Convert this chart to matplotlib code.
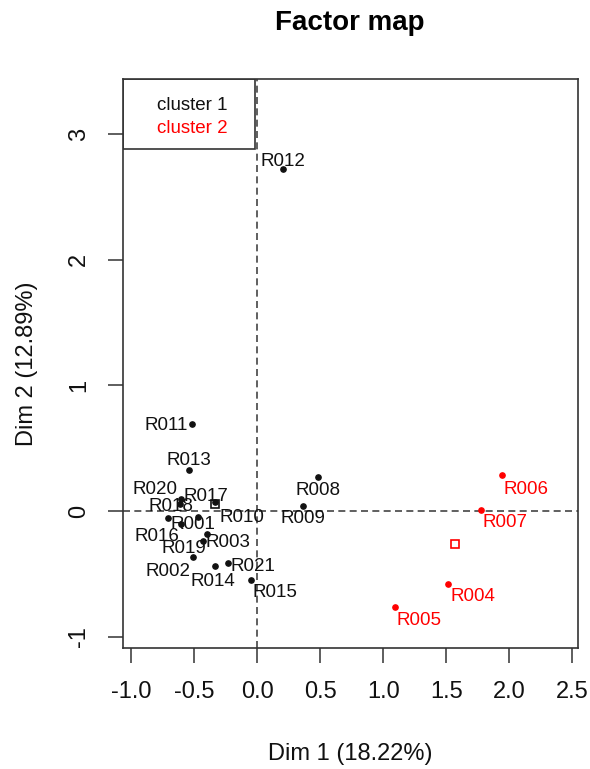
import numpy as np
import matplotlib
matplotlib.use('Agg')
import matplotlib.pyplot as plt
from matplotlib.patches import Rectangle

plt.rcParams['font.family'] = ['Liberation Sans', 'DejaVu Sans']

# individuals on the first factorial plane
names = ['R001', 'R002', 'R003', 'R004', 'R005', 'R006', 'R007', 'R008', 'R009', 'R010', 'R011',
         'R012', 'R013', 'R014', 'R015', 'R016', 'R017', 'R018', 'R019', 'R020', 'R021']
dim1 = [-0.606, -0.508, -0.402, 1.511, 1.090, 1.944, 1.773, 0.479, 0.365, -0.473, -0.521,
        0.206, -0.544, -0.336, -0.050, -0.709, -0.336, -0.613, -0.433, -0.606, -0.230]
dim2 = [-0.104, -0.369, -0.186, -0.584, -0.764, 0.284, 0.006, 0.273, 0.040, -0.050, 0.693,
        2.721, 0.326, -0.436, -0.549, -0.056, 0.072, 0.056, -0.236, 0.096, -0.416]
cluster = [1, 1, 1, 2, 2, 2, 2, 1, 1, 1, 1, 1, 1, 1, 1, 1, 1, 1, 1, 1, 1]

# cluster centres
centre_dim1 = [-0.336, 1.571]
centre_dim2 = [0.056, -0.263]

cluster_names = ['cluster 1', 'cluster 2']
colors = {1: '#111111', 2: '#FF0000'}

# label offsets in pixels (right, up) -- mimic the non-overlapping placement
lab_off = [(12, 0), (-25, -14), (21, -8), (25, -12), (24, -14), (24, -14), (24, -12),
           (0, -14), (0, -13), (44, 0), (-25, -2), (0, 8), (0, 10), (-2, -16), (24, -13),
           (-11, -19), (-9, 5), (-9, -3), (-19, -8), (-26, 9), (25, -3)]

fig = plt.figure(figsize=(5.9, 7.69), dpi=100)
ax = fig.add_axes([0.208, 0.157, 0.772, 0.740])

ax.axhline(0, color='#444444', lw=1.2, ls=(0, (4.2, 2.6)), zorder=1)
ax.axvline(0, color='#444444', lw=1.2, ls=(0, (4.2, 2.6)), zorder=1)

for n, x, y, c, off in zip(names, dim1, dim2, cluster, lab_off):
    ax.plot(x, y, 'o', color=colors[c], ms=3.8, zorder=3)
    ax.annotate(n, (x, y), xytext=(off[0] * 0.72, off[1] * 0.72), textcoords='offset points',
                ha='center', va='center', fontsize=13.5, color=colors[c], zorder=4)

for k, (x, y) in enumerate(zip(centre_dim1, centre_dim2)):
    ax.plot(x, y, 's', mfc='none', mec=colors[k + 1], ms=6, mew=1.2, zorder=3)

ax.set_xlim(-1.068, 2.548)
ax.set_ylim(-1.093, 3.437)
ax.set_xticks(np.arange(-1.0, 2.51, 0.5))
ax.set_xticklabels(['%.1f' % v for v in np.arange(-1.0, 2.51, 0.5)])
ax.set_yticks([-1, 0, 1, 2, 3])
ax.set_yticklabels(['-1', '0', '1', '2', '3'], rotation=90, va='center')
ax.tick_params(length=10.5, width=1.1, color='#333333', labelsize=17, pad=13,
               labelcolor='#111111')
for s in ax.spines.values():
    s.set_color('#333333')
    s.set_linewidth(1.2)

ax.set_xlabel('Dim 1 (18.22%)', fontsize=17, labelpad=29, color='#111111')
ax.set_ylabel('Dim 2 (12.89%)', fontsize=17, labelpad=22, color='#111111')
fig.text(0.592, 0.970, 'Factor map', ha='center', va='center', fontsize=20, fontweight='bold')

# legend box in the top-left corner
ax.add_patch(Rectangle((0, 0.8775), 0.290, 0.1225, transform=ax.transAxes, fill=False,
                       ec='#333333', lw=1.2, zorder=5))
for k, (lab, yy) in enumerate(zip(cluster_names, [0.9536, 0.9127])):
    ax.text(0.0753, yy, lab, transform=ax.transAxes, ha='left', va='center',
            fontsize=13.5, color=colors[k + 1])

fig.savefig('out.png', dpi=100)
